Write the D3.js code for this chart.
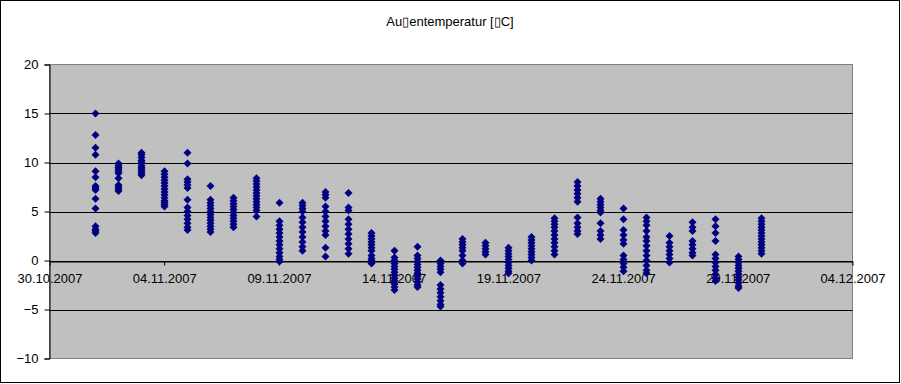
<!DOCTYPE html>
<html>
<head>
<meta charset="utf-8">
<script src="https://cdn.jsdelivr.net/npm/d3@7"></script>
<style>
  body { margin: 0; background: #fff; }
  text { font-family: "Liberation Sans", Arial, sans-serif; }
</style>
</head>
<body>
<div id="container"></div>
<script>
// chart title (as it shows up, with the broken glyphs)
var title = "Au\u25AFentemperatur [\u25AFC]";

// one column of readings per day, 01.11.2007 .. 30.11.2007
var days = [
  "2007-11-01", "2007-11-02", "2007-11-03", "2007-11-04", "2007-11-05",
  "2007-11-06", "2007-11-07", "2007-11-08", "2007-11-09", "2007-11-10",
  "2007-11-11", "2007-11-12", "2007-11-13", "2007-11-14", "2007-11-15",
  "2007-11-16", "2007-11-17", "2007-11-18", "2007-11-19", "2007-11-20",
  "2007-11-21", "2007-11-22", "2007-11-23", "2007-11-24", "2007-11-25",
  "2007-11-26", "2007-11-27", "2007-11-28", "2007-11-29", "2007-11-30"
];

var temps = [
  [15.0, 12.8, 11.5, 10.8, 9.1, 8.5, 7.6, 7.4, 7.2, 6.3, 5.3, 3.5, 3.2, 3.0, 2.8],
  [9.9, 9.7, 9.5, 9.3, 9.1, 8.9, 8.4, 7.7, 7.5, 7.3, 7.1],
  [11.0, 10.8, 10.5, 10.2, 10.0, 9.7, 9.5, 9.3, 9.1, 8.9, 8.7],
  [9.1, 8.8, 8.5, 8.2, 7.9, 7.6, 7.3, 7.0, 6.7, 6.4, 6.1, 5.9, 5.7, 5.5],
  [11.0, 9.9, 8.3, 8.0, 7.7, 7.4, 6.2, 5.4, 5.0, 4.6, 4.2, 3.8, 3.4, 3.1],
  [7.6, 6.2, 5.9, 5.6, 5.3, 5.0, 4.7, 4.4, 4.1, 3.8, 3.5, 3.2, 2.9],
  [6.4, 6.1, 5.8, 5.5, 5.2, 4.9, 4.6, 4.3, 4.0, 3.7, 3.4],
  [8.4, 8.1, 7.8, 7.5, 7.2, 6.9, 6.6, 6.3, 6.0, 5.7, 5.4, 5.1, 4.5],
  [5.9, 4.0, 3.6, 3.2, 2.8, 2.4, 2.0, 1.6, 1.2, 0.8, 0.4, 0.1, -0.1],
  [5.9, 5.6, 5.3, 5.0, 4.4, 3.9, 3.4, 2.9, 2.4, 1.9, 1.4, 1.0],
  [7.0, 6.7, 6.4, 5.5, 5.0, 4.5, 4.0, 3.5, 3.0, 2.6, 1.3, 0.4],
  [6.9, 5.4, 5.1, 4.2, 3.7, 3.2, 2.7, 2.2, 1.7, 1.2, 0.7],
  [2.8, 2.5, 2.2, 1.9, 1.6, 1.3, 1.0, 0.5, 0.2, 0.0, -0.2, -0.3],
  [1.0, 0.3, 0.0, -0.3, -0.6, -0.9, -1.2, -1.5, -1.8, -2.1, -2.4, -2.7, -3.0],
  [1.4, 0.5, 0.2, -0.1, -0.4, -0.7, -1.0, -1.3, -1.6, -1.9, -2.2, -2.5, -2.7],
  [0.0, -0.3, -0.6, -0.9, -1.2, -2.5, -2.9, -3.3, -3.7, -4.1, -4.5, -4.7],
  [2.2, 1.9, 1.6, 1.3, 1.0, 0.5, 0.0, -0.3],
  [1.8, 1.5, 1.2, 0.9, 0.6],
  [1.3, 1.0, 0.7, 0.4, 0.1, -0.2, -0.5, -0.8, -1.1, -1.3],
  [2.4, 2.1, 1.8, 1.5, 1.2, 0.9, 0.6, 0.3, 0.0],
  [4.3, 4.0, 3.7, 3.4, 3.0, 2.6, 2.2, 1.8, 1.4, 1.0, 0.6],
  [8.0, 7.6, 7.2, 6.8, 6.4, 6.0, 4.4, 3.8, 3.4, 3.0, 2.7],
  [6.3, 6.0, 5.7, 5.4, 5.1, 4.9, 3.8, 3.0, 2.6, 2.2],
  [5.3, 4.2, 3.1, 2.6, 2.1, 1.7, 0.5, 0.1, -0.3, -0.7, -1.1],
  [4.4, 4.0, 3.6, 3.0, 2.4, 2.0, 1.5, 1.0, 0.5, 0.0, -0.5, -1.0, -1.3],
  [2.5, 1.8, 1.4, 1.0, 0.6, 0.2, -0.2],
  [3.9, 3.4, 3.0, 2.0, 1.6, 1.2, 0.8, 0.5],
  [4.2, 3.5, 2.8, 2.0, 0.6, 0.2, -0.2, -0.6, -1.0, -1.4, -1.8, -2.1],
  [0.4, 0.1, -0.2, -0.5, -0.8, -1.1, -1.4, -1.7, -2.0, -2.3, -2.6, -2.8],
  [4.3, 4.0, 3.7, 3.4, 3.1, 2.8, 2.5, 2.2, 1.9, 1.6, 1.3, 1.0, 0.7]
];

var xTicks = ["2007-10-30", "2007-11-04", "2007-11-09", "2007-11-14", "2007-11-19",
              "2007-11-24", "2007-11-29", "2007-12-04"];
var yTicks = [-10, -5, 0, 5, 10, 15, 20];

var width = 901;
var height = 384;
var plot = { left: 49.5, right: 852.5, top: 64.5, bottom: 358.5 };

var parse = d3.utcParse("%Y-%m-%d");
var fmt = d3.utcFormat("%d.%m.%Y");

// flatten into points
var points = [];
days.forEach(function (d, i) {
    temps[i].forEach(function (v) {
        points.push({ date: parse(d), value: v });
    });
});

var svg = d3.select("#container")
    .append("svg")
    .attr("width", width)
    .attr("height", height);

// chart area border
svg.append("rect")
    .attr("x", 0.5).attr("y", 0.5)
    .attr("width", 899).attr("height", 382)
    .attr("fill", "#fff")
    .attr("stroke", "#000");

var x = d3.scaleUtc()
    .domain([parse(xTicks[0]), parse(xTicks[xTicks.length - 1])])
    .range([plot.left, plot.right]);

var y = d3.scaleLinear()
    .domain([-10, 20])
    .range([plot.bottom, plot.top]);

// plot area
svg.append("rect")
    .attr("x", plot.left).attr("y", plot.top)
    .attr("width", plot.right - plot.left)
    .attr("height", plot.bottom - plot.top)
    .attr("fill", "#c0c0c0")
    .attr("stroke", "#808080");

// gridlines
svg.append("g")
    .selectAll("line")
    .data(yTicks.filter(function (t) { return t > -10 && t < 20; }))
    .enter()
    .append("line")
    .attr("x1", plot.left).attr("x2", plot.right)
    .attr("y1", function (d) { return Math.round(y(d)) + 0.5; })
    .attr("y2", function (d) { return Math.round(y(d)) + 0.5; })
    .attr("stroke", "#000");

// y axis
var yAxis = svg.append("g")
    .attr("transform", "translate(" + plot.left + ",0)")
    .call(d3.axisLeft(y).tickValues(yTicks).tickSize(5).tickPadding(6));
yAxis.selectAll("path, line").attr("stroke", "#000");
yAxis.selectAll("text")
    .attr("fill", "#000")
    .style("font-size", "13px")
    .style("font-family", "'Liberation Sans', Arial, sans-serif");

// x axis sits on the zero line
var xAxis = svg.append("g")
    .attr("transform", "translate(0," + (Math.round(y(0)) + 0.5) + ")")
    .call(d3.axisBottom(x).tickValues(xTicks.map(parse)).tickFormat(fmt)
        .tickSize(4).tickSizeOuter(0).tickPadding(8));
xAxis.select(".domain").attr("stroke", "#000");
xAxis.selectAll("line").attr("stroke", "#000");
xAxis.selectAll("text")
    .attr("fill", "#000")
    .style("font-size", "13px")
    .style("font-family", "'Liberation Sans', Arial, sans-serif");

// markers: small navy diamonds
var r = 4;
svg.append("g")
    .selectAll("path")
    .data(points)
    .enter()
    .append("path")
    .attr("transform", function (d) {
        return "translate(" + (Math.round(x(d.date)) + 0.5) + "," + y(d.value) + ")";
    })
    .attr("d", "M0," + (-r) + "L" + r + ",0L0," + r + "L" + (-r) + ",0Z")
    .attr("fill", "#000080");

// title
svg.append("text")
    .attr("x", 450)
    .attr("y", 26)
    .attr("text-anchor", "middle")
    .style("font-size", "13px")
    .text(title);
</script>
</body>
</html>
